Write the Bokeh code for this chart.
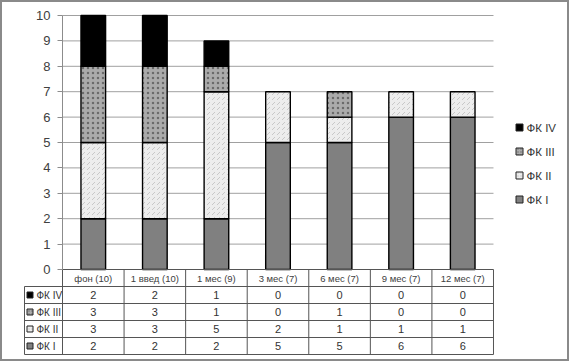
from bokeh.plotting import figure
from bokeh.models import Range1d, LinearAxis, FixedTicker, ColumnDataSource
from bokeh.core.properties import value
from bokeh.embed import file_html
from bokeh.resources import INLINE

# ---------------- data ----------------
categories = ["фон (10)", "1 введ (10)", "1 мес (9)", "3 мес (7)",
              "6 мес (7)", "9 мес (7)", "12 мес (7)"]
series_names = ["ФК I", "ФК II", "ФК III", "ФК IV"]
fk1 = [2, 2, 2, 5, 5, 6, 6]
fk2 = [3, 3, 5, 2, 1, 1, 1]
fk3 = [3, 3, 1, 0, 1, 0, 0]
fk4 = [2, 2, 1, 0, 0, 0, 0]
y_ticks = [0, 1, 2, 3, 4, 5, 6, 7, 8, 9, 10]

series_values = [fk1, fk2, fk3, fk4]

# ---------------- styles ----------------
styles = [
    dict(fill_color="#808080", hatch_pattern=None, hatch_color=None),
    dict(fill_color="#ededed", hatch_pattern="right_diagonal_dash", hatch_color="#c8c8c8"),
    dict(fill_color="#ababab", hatch_pattern="dot", hatch_color="#6a6a6a"),
    dict(fill_color="#000000", hatch_pattern=None, hatch_color=None),
]

# ---------------- layout (pixels) ----------------
W, H = 569, 361
FX0 = 62.0      # figure x of category axis start
PXU = 61.57     # px per category
FY0 = 269.0     # figure y of value 0
PYU = 25.4      # px per value unit

x_start = -FX0 / PXU
x_end = (W - FX0) / PXU
y_end = FY0 / PYU
y_start = -(H - FY0) / PYU

ncat = len(categories)
ROW = 17.0 / PYU          # table row height in data units
LEFT = (24.0 - FX0) / PXU  # left edge of the table label column

p = figure(width=W, height=H,
           x_range=Range1d(x_start, x_end), y_range=Range1d(y_start, y_end),
           output_backend="svg", toolbar_location=None,
           x_axis_location=None, y_axis_location=None,
           min_border=0, min_border_left=0, min_border_right=0,
           min_border_top=0, min_border_bottom=0,
           outline_line_color="#8a8a8a", outline_line_width=3,
           background_fill_color="white", border_fill_color="white")
p.grid.visible = False

# gridlines
grid_y = [t for t in y_ticks if t > 0]
p.segment(x0=[0] * len(grid_y), x1=[ncat] * len(grid_y), y0=grid_y, y1=grid_y,
          line_color="#a0a0a0", line_width=1)

# y axis
yaxis = LinearAxis(fixed_location=0, ticker=FixedTicker(ticks=y_ticks), bounds=(0, 10),
                   axis_line_color="#8c8c8c", axis_line_width=1,
                   major_tick_line_color="#8c8c8c", major_tick_out=5, major_tick_in=0,
                   minor_tick_line_color=None,
                   major_label_text_font="Liberation Sans",
                   major_label_text_font_size="13px",
                   major_label_text_color="#404040",
                   major_label_standoff=7)
p.add_layout(yaxis, "left")

# x axis (category labels in table header)
xticks = [i + 0.5 for i in range(ncat)]
xaxis = LinearAxis(fixed_location=0, ticker=FixedTicker(ticks=xticks),
                   major_label_overrides={t: c for t, c in zip(xticks, categories)},
                   axis_line_color=None, major_tick_line_color=None,
                   minor_tick_line_color=None,
                   major_tick_out=0, major_tick_in=0,
                   major_label_text_font="Liberation Sans",
                   major_label_text_font_size="9.5px",
                   major_label_text_color="#404040",
                   major_label_standoff=3)
p.add_layout(xaxis, "below")

# stacked bars
bottom = [0] * ncat
for name, vals, st in zip(series_names, series_values, styles):
    xs, bs, ts = [], [], []
    for i, v in enumerate(vals):
        if v > 0:
            xs.append(i + 0.5)
            bs.append(bottom[i])
            ts.append(bottom[i] + v)
        bottom[i] += v
    kw = dict(fill_color=st["fill_color"], line_color="black", line_width=1.4)
    if st["hatch_pattern"]:
        kw.update(hatch_pattern=st["hatch_pattern"], hatch_color=st["hatch_color"],
                  hatch_scale=5, hatch_weight=1)
    p.vbar(x=xs, bottom=bs, top=ts, width=0.4, **kw)

# table lines
tl = "#555555"
rows_order = list(range(len(series_names)))[::-1]  # IV, III, II, I
nrows = len(rows_order)
bottom_y = -ROW * (nrows + 1)
hx0, hx1, hy = [0], [ncat], [0]
for k in range(1, nrows + 2):
    hx0.append(LEFT); hx1.append(ncat); hy.append(-ROW * k)
p.segment(x0=hx0, x1=hx1, y0=hy, y1=hy, line_color=tl, line_width=1)
vx = list(range(ncat + 1)) + [LEFT]
vy0 = [0] * (ncat + 1) + [-ROW]
vy1 = [bottom_y] * (ncat + 2)
p.segment(x0=vx, x1=vx, y0=vy0, y1=vy1, line_color=tl, line_width=1)

# table values and row labels
for r, si in enumerate(rows_order):
    yc = -ROW * (r + 1.5)
    src = ColumnDataSource(dict(x=xticks, y=[yc] * ncat,
                                t=[str(v) for v in series_values[si]]))
    p.text(x="x", y="y", text="t", source=src, text_align="center",
           text_baseline="middle", text_font=value("Liberation Sans"),
           text_font_size="11px", text_color="#333333")
    st = styles[si]
    mk = dict(fill_color=st["fill_color"], line_color="#222222", line_width=1)
    if st["hatch_pattern"]:
        mk.update(hatch_pattern="dot", hatch_color=st["hatch_color"], hatch_scale=3)
    p.rect(x=[LEFT + 5.5 / PXU], y=[yc], width=6, height=6,
           width_units="screen", height_units="screen", **mk)
    p.text(x=[LEFT + 12 / PXU], y=[yc], text=[series_names[si]],
           text_align="left", text_baseline="middle",
           text_font=value("Liberation Sans"), text_font_size="10px",
           text_color="#333333")

# legend (right side)
LEG_X = (519 - FX0) / PXU
LEG_Y0 = (FY0 - 127) / PYU
LEG_STEP = 24 / PYU
for r, si in enumerate(rows_order):
    yc = LEG_Y0 - r * LEG_STEP
    st = styles[si]
    mk = dict(fill_color=st["fill_color"], line_color="#222222", line_width=1)
    if st["hatch_pattern"]:
        mk.update(hatch_pattern="dot", hatch_color=st["hatch_color"], hatch_scale=3)
    p.rect(x=[LEG_X], y=[yc], width=7, height=7,
           width_units="screen", height_units="screen", **mk)
    p.text(x=[LEG_X + 7 / PXU], y=[yc], text=[series_names[si]],
           text_align="left", text_baseline="middle",
           text_font=value("Liberation Sans"), text_font_size="11.5px",
           text_color="#333333")

open("out.html", "w").write(file_html(p, INLINE))
